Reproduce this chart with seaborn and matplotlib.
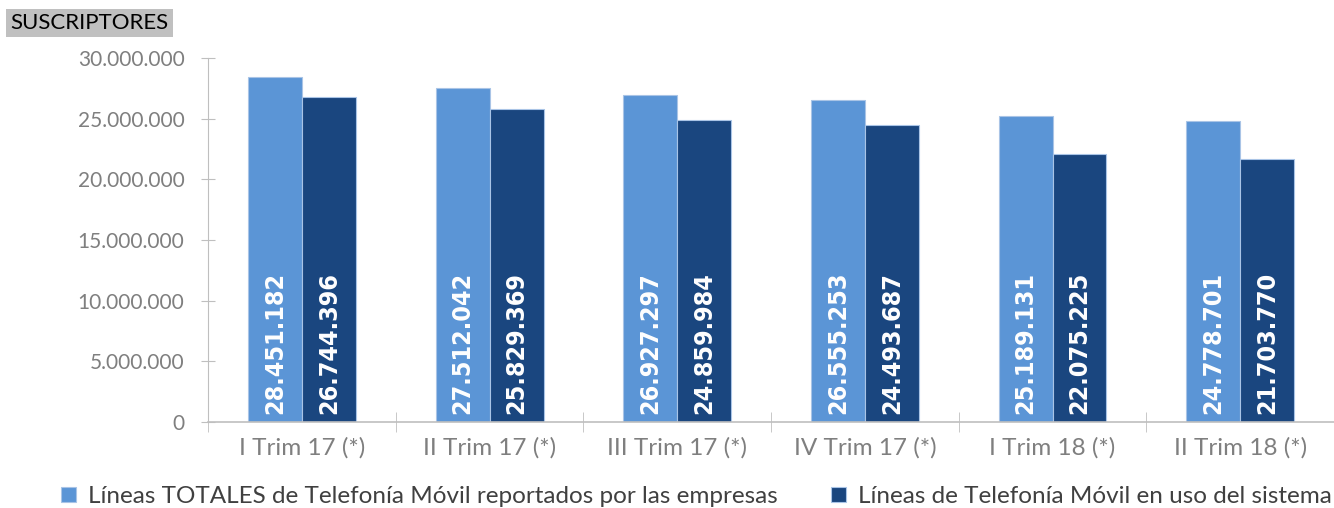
import pandas as pd
import seaborn as sns
import matplotlib.pyplot as plt
from matplotlib.ticker import FuncFormatter, FixedLocator

# Datos
trimestres = ['I Trim 17 (*)', 'II Trim 17 (*)', 'III Trim 17 (*)',
              'IV Trim 17 (*)', 'I Trim 18 (*)', 'II Trim 18 (*)']
lineas_totales = [28451182, 27512042, 26927297, 26555253, 25189131, 24778701]
lineas_en_uso = [26744396, 25829369, 24859984, 24493687, 22075225, 21703770]
serie_totales = 'Líneas TOTALES de Telefonía Móvil reportados por las empresas'
serie_uso = 'Líneas de Telefonía Móvil en uso del sistema'

df = pd.DataFrame({
    'Trimestre': trimestres * 2,
    'Lineas': lineas_totales + lineas_en_uso,
    'Serie': [serie_totales] * len(trimestres) + [serie_uso] * len(trimestres),
})

def miles(v):
    return f'{int(round(v)):,}'.replace(',', '.')

sns.set_style('white')
plt.rcParams['font.family'] = ['Lato', 'DejaVu Sans']

fig = plt.figure(figsize=(13.34, 5.08), dpi=100)
ax = fig.add_axes([0.156, 0.169, 0.844, 0.717])

colores = {serie_totales: '#5b95d6', serie_uso: '#1a467f'}
sns.barplot(data=df, x='Trimestre', y='Lineas', hue='Serie', palette=colores,
            width=0.575, gap=0, edgecolor='#a9c4e6', linewidth=0.8,
            saturation=1, ax=ax, legend=True)

# Etiquetas dentro de las barras
for cont in ax.containers:
    for barra in cont:
        v = barra.get_height()
        ax.text(barra.get_x() + barra.get_width() / 2, 700000, miles(v),
                rotation=90, ha='center', va='bottom', color='white',
                fontsize=18, fontweight='bold', fontstretch='condensed',
                family='DejaVu Sans')

ax.set_ylim(0, 30000000)
ax.set_xlim(-0.5, len(trimestres) - 0.5)
ax.yaxis.set_major_formatter(FuncFormatter(lambda v, p: miles(v)))
ax.set_yticks(range(0, 30000001, 5000000))
ax.set_xlabel('')
ax.set_ylabel('')

gris = '#bfbfbf'
for lado in ['top', 'right']:
    ax.spines[lado].set_visible(False)
ax.spines['left'].set_color(gris)
ax.spines['bottom'].set_color(gris)
ax.spines['bottom'].set_linewidth(1.2)

ax.tick_params(axis='y', direction='inout', length=10, color=gris,
               labelsize=15, labelcolor='#7f7f7f', pad=12, left=True)
ax.tick_params(axis='x', which='major', length=0, labelsize=17.5,
               labelcolor='#7f7f7f', pad=11)
ax.xaxis.set_minor_locator(FixedLocator([i - 0.5 for i in range(len(trimestres) + 1)]))
ax.tick_params(axis='x', which='minor', direction='inout', length=14,
               color=gris, bottom=True)

# Leyenda inferior
handles, labels = ax.get_legend_handles_labels()
ax.legend(handles, labels, loc='center', bbox_to_anchor=(0.434, -0.205),
          ncol=2, frameon=False, fontsize=17.5, handlelength=0.6,
          handleheight=0.6, columnspacing=2.2, handletextpad=0.5,
          labelcolor='#404040', borderaxespad=0, borderpad=0)

# Titulo con fondo gris
fig.text(0.008, 0.955, 'SUSCRIPTORES', fontsize=16, color='black',
         ha='left', va='center',
         bbox=dict(facecolor='#c0c0c0', edgecolor='none', pad=3))

fig.savefig('out.png', dpi=100)
